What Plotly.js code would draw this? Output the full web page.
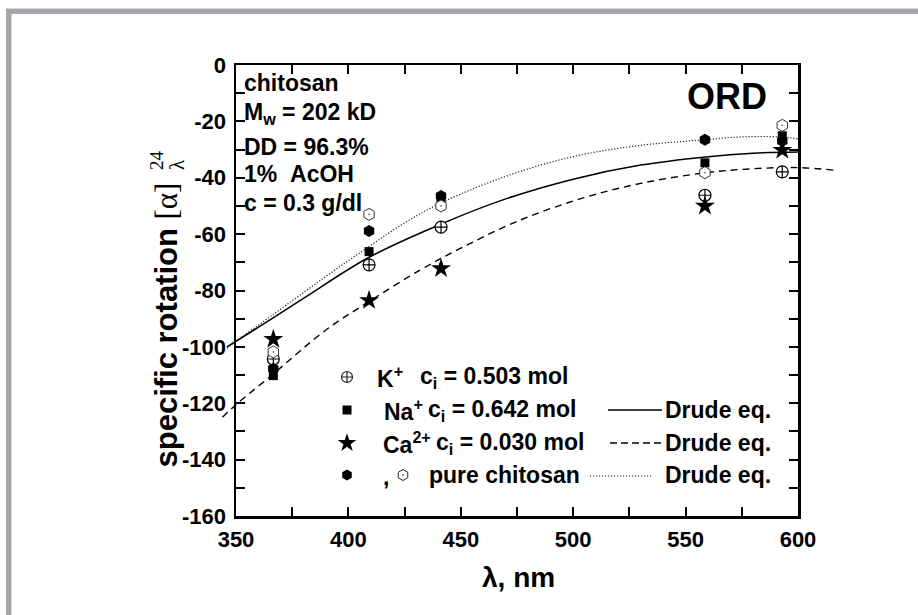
<!DOCTYPE html>
<html>
<head>
<meta charset="utf-8">
<script src="https://cdn.plot.ly/plotly-3.0.1.min.js"></script>
<style>
  html, body { margin: 0; padding: 0; background: #fff; }
  #chart { width: 918px; height: 615px; }
</style>
</head>
<body>
<div id="chart"></div>
<script>
// Wavelengths (nm) at which the specific rotation was measured
const wavelength = [366.6, 409.2, 441.2, 558.6, 593.0];

// Specific rotation of chitosan with added salts
const rotK = [-104.3, -70.9, -57.5, -46.2, -37.9];
const rotNa = [-110.2, -66.2, -47.8, -34.7, -25.1];
const rotCa = [-97.3, -83.5, -72.2, -50.0, -30.2];
// Pure chitosan, two runs
const rotPureFilled = [-107.8, -58.9, -46.5, -26.5, -27.0];
const rotPureOpen = [-101.8, -53.0, -50.0, -38.2, -21.4];

// Drude equation curves
const drudeSolidX = [346, 350, 366, 380, 409, 441, 470, 500, 530, 559, 580, 600];
const drudeSolidY = [-100, -98, -90, -82.8, -68.3, -56.5, -47.5, -40.5, -35.5, -32.6, -31.3, -30.9];
const drudeDashX = [344, 350, 366, 390, 409, 432, 450, 475, 503, 530, 559, 580, 600, 616];
const drudeDashY = [-125, -120.5, -110, -94, -84, -72.7, -65, -55.5, -47.5, -42, -38.2, -36.8, -36.4, -37.3];
const drudeDotX = [346, 350, 366, 390, 409, 425, 441, 470, 500, 530, 559, 575, 592, 600];
const drudeDotY = [-100.5, -98, -88.8, -75, -64.5, -56, -49, -39.5, -32.5, -28.5, -26.5, -25.5, -25.5, -26.2];

// Axis ticks
const xTickVals = [350, 400, 450, 500, 550, 600];
const xTickText = ['350', '400', '450', '500', '550', '600'];
const yTickVals = [0, -20, -40, -60, -80, -100, -120, -140, -160];
const yTickText = ['0', '-20', '-40', '-60', '-80', '-100', '-120', '-140', '-160'];

// ---- page geometry (pixels) ----
const W = 918, H = 615;
const M = { l: 200, r: 70, t: 65, b: 99 };
const plotW = W - M.l - M.r, plotH = H - M.t - M.b;
const axLeft = 236, axRight = 798;          // frame of the wavelength axis
const xRange = [350, 600], yRange = [-160, 0];
const nmPerPx = (xRange[1] - xRange[0]) / (axRight - axLeft);
// wider, hidden axis so the fitted curves may run past the frame
const wideRange = [xRange[0] - (axLeft - M.l) * nmPerPx,
                   xRange[1] + (W - M.r - axRight) * nmPerPx];
const px = x => (x - M.l) / plotW;
const py = y => 1 - (y - M.t) / plotH;

const FONT = 'Liberation Sans, Arial, Helvetica, sans-serif';
const SERIF = 'Liberation Serif, Times New Roman, serif';
const bold = (size) => ({ family: FONT, size: size, color: '#000', weight: 700 });

const traces = [
  // squares sit on the framed axes (drawn first, under the rest)
  { x: wavelength, y: rotNa, xaxis: 'x', yaxis: 'y', mode: 'markers', name: 'Na+', cliponaxis: false,
    marker: { symbol: 'square', size: 9, color: '#000' } },
  { x: drudeSolidX, y: drudeSolidY, xaxis: 'x2', yaxis: 'y2', mode: 'lines',
    line: { color: '#000', width: 1.5, shape: 'spline' }, hoverinfo: 'skip' },
  { x: drudeDashX, y: drudeDashY, xaxis: 'x2', yaxis: 'y2', mode: 'lines',
    line: { color: '#000', width: 1.4, dash: '7px,5px', shape: 'spline' }, hoverinfo: 'skip' },
  { x: drudeDotX, y: drudeDotY, xaxis: 'x2', yaxis: 'y2', mode: 'lines',
    line: { color: '#222', width: 1.2, dash: '1.2px,1.8px', shape: 'spline' }, hoverinfo: 'skip' },
  { x: wavelength, y: rotK, xaxis: 'x2', yaxis: 'y2', mode: 'markers', name: 'K+',
    marker: { symbol: 'circle-cross', size: 12, color: '#fff', line: { color: '#000', width: 1.2 } } },
  { x: wavelength, y: rotCa, xaxis: 'x2', yaxis: 'y2', mode: 'markers', name: 'Ca2+',
    marker: { symbol: 'star', size: 15, color: '#000' } },
  { x: wavelength, y: rotPureFilled, xaxis: 'x2', yaxis: 'y2', mode: 'markers', name: 'pure',
    marker: { symbol: 'hexagon', size: 12, color: '#000' } },
  { x: wavelength, y: rotPureOpen, xaxis: 'x2', yaxis: 'y2', mode: 'markers', name: 'pure2',
    marker: { symbol: 'hexagon-dot', size: 12, color: '#fff', line: { color: '#333', width: 1 } } }
];

// ---- legend drawn inside the frame ----
const legRows = [377, 410, 443, 475];
const legSymX = 347;
const legend = [
  { sym: 'circle-cross', size: 11, color: '#fff', line: 1.2, x: legSymX, y: legRows[0] },
  { sym: 'square', size: 9, color: '#000', line: 0, x: legSymX, y: legRows[1] },
  { sym: 'star', size: 14, color: '#000', line: 0, x: legSymX, y: legRows[2] },
  { sym: 'hexagon', size: 11, color: '#000', line: 0, x: legSymX, y: legRows[3] },
  { sym: 'hexagon-dot', size: 11, color: '#fff', line: 1, x: 403, y: legRows[3] }
];
legend.forEach(s => traces.push({
  x: [s.x], y: [s.y], xaxis: 'x3', yaxis: 'y3', mode: 'markers', hoverinfo: 'skip',
  marker: { symbol: s.sym, size: s.size, color: s.color, line: { color: '#222', width: s.line } }
}));

const NB = '\u00A0';
const ann = (text, x, y, size, xanchor, extra) => Object.assign({
  text: text, xref: 'paper', yref: 'paper', x: px(x), y: py(y),
  xanchor: xanchor || 'left', yanchor: 'middle', showarrow: false, font: bold(size)
}, extra || {});
const serif = t => '<span style="font-family:' + SERIF + ';font-weight:400">' + t + '</span>';

const annotations = [
  // sample description
  ann('chitosan', 242, 83, 23),
  ann('M<sub>w</sub> = 202 kD', 242, 113, 23),
  ann('DD = 96.3%', 242, 147, 23),
  ann('1%' + NB + NB + 'AcOH', 242, 174, 23),
  ann('c = 0.3 g/dl', 242, 203, 23),
  ann('ORD', 727, 97, 36, 'center'),
  // legend text
  ann('K<sup>+</sup>', 375, legRows[0], 23),
  ann('c<sub>i</sub> = 0.503' + NB + 'mol', 418, legRows[0], 23),
  ann('Na<sup>+</sup>', 382, legRows[1], 23),
  ann('c<sub>i</sub> = 0.642 mol', 426, legRows[1], 23),
  ann('Drude eq.', 663, legRows[1], 23),
  ann('Ca<sup>2+</sup>', 381, legRows[2], 23),
  ann('c<sub>i</sub> = 0.030 mol', 434, legRows[2], 23),
  ann('Drude eq.', 663, legRows[2], 23),
  ann(',', 381, legRows[3] + 2, 23),
  ann('pure chitosan', 427, legRows[3], 23),
  ann('Drude eq.', 663, legRows[3], 23),
  // axis titles
  ann('λ, nm', 518, 577, 28, 'center'),
  ann('specific rotation ' + serif('[α]'), 166, 470, 31, 'center', { textangle: -90, yanchor: 'bottom' }),
  ann(serif('24'), 156, 160, 19, 'center', { textangle: -90 }),
  ann(serif('λ'), 177, 165, 21, 'center', { textangle: -90 })
];

const shapes = [
  // outer grey frame
  { type: 'rect', xref: 'paper', yref: 'paper', x0: px(6), x1: px(W), y0: py(8), y1: py(9),
    fillcolor: '#d6d6d8', line: { width: 0 }, layer: 'below' },
  { type: 'rect', xref: 'paper', yref: 'paper', x0: px(6), x1: px(W), y0: py(9), y1: py(14),
    fillcolor: '#a7a7ab', line: { width: 0 }, layer: 'below' },
  { type: 'rect', xref: 'paper', yref: 'paper', x0: px(6), x1: px(11), y0: py(9), y1: py(H),
    fillcolor: '#a7a7ab', line: { width: 0 }, layer: 'below' },
  { type: 'rect', xref: 'paper', yref: 'paper', x0: px(11), x1: px(12), y0: py(14), y1: py(H),
    fillcolor: '#d6d6d8', line: { width: 0 }, layer: 'below' },
  // legend line samples
  { type: 'line', xref: 'paper', yref: 'paper', x0: px(608), x1: px(662), y0: py(legRows[1]), y1: py(legRows[1]),
    line: { color: '#000', width: 1.5 } },
  { type: 'line', xref: 'paper', yref: 'paper', x0: px(610), x1: px(662), y0: py(legRows[2]), y1: py(legRows[2]),
    line: { color: '#000', width: 1.4, dash: '7px,4px' } },
  { type: 'line', xref: 'paper', yref: 'paper', x0: px(590), x1: px(653), y0: py(legRows[3] + 1), y1: py(legRows[3] + 1),
    line: { color: '#222', width: 1.2, dash: '1.2px,1.8px' } }
];

const axisCommon = {
  showline: true, linecolor: '#000', linewidth: 2.5, mirror: 'ticks',
  ticks: 'inside', ticklen: 9, tickwidth: 2, tickcolor: '#000',
  showgrid: false, zeroline: false, tickmode: 'array', tickfont: bold(22),
  fixedrange: true
};

const layout = {
  width: W, height: H,
  margin: M,
  paper_bgcolor: '#fff', plot_bgcolor: 'rgba(0,0,0,0)',
  showlegend: false,
  xaxis: Object.assign({}, axisCommon, {
    domain: [px(axLeft), px(axRight)], range: xRange,
    tickvals: xTickVals, ticktext: xTickText, anchor: 'y', ticklabelstandoff: 2,
    minor: { tickmode: 'linear', tick0: 350, dtick: 25, ticks: 'inside', ticklen: 9, tickwidth: 2, tickcolor: '#000', showgrid: false }
  }),
  yaxis: Object.assign({}, axisCommon, {
    domain: [0, 1], range: yRange, anchor: 'x',
    tickvals: yTickVals, ticktext: yTickText, ticklabelstandoff: 3,
    minor: { tickmode: 'linear', tick0: 0, dtick: 10, ticks: 'inside', ticklen: 9, tickwidth: 2, tickcolor: '#000', showgrid: false }
  }),
  xaxis2: { domain: [0, 1], range: wideRange, visible: false, anchor: 'y2', fixedrange: true },
  yaxis2: { domain: [0, 1], range: yRange, visible: false, anchor: 'x2', fixedrange: true },
  xaxis3: { domain: [0, 1], range: [M.l, W - M.r], visible: false, anchor: 'y3', fixedrange: true },
  yaxis3: { domain: [0, 1], range: [H - M.b, M.t], visible: false, anchor: 'x3', fixedrange: true },
  annotations: annotations,
  shapes: shapes
};

Plotly.newPlot('chart', traces, layout, { displayModeBar: false, staticPlot: true });
</script>
</body>
</html>
